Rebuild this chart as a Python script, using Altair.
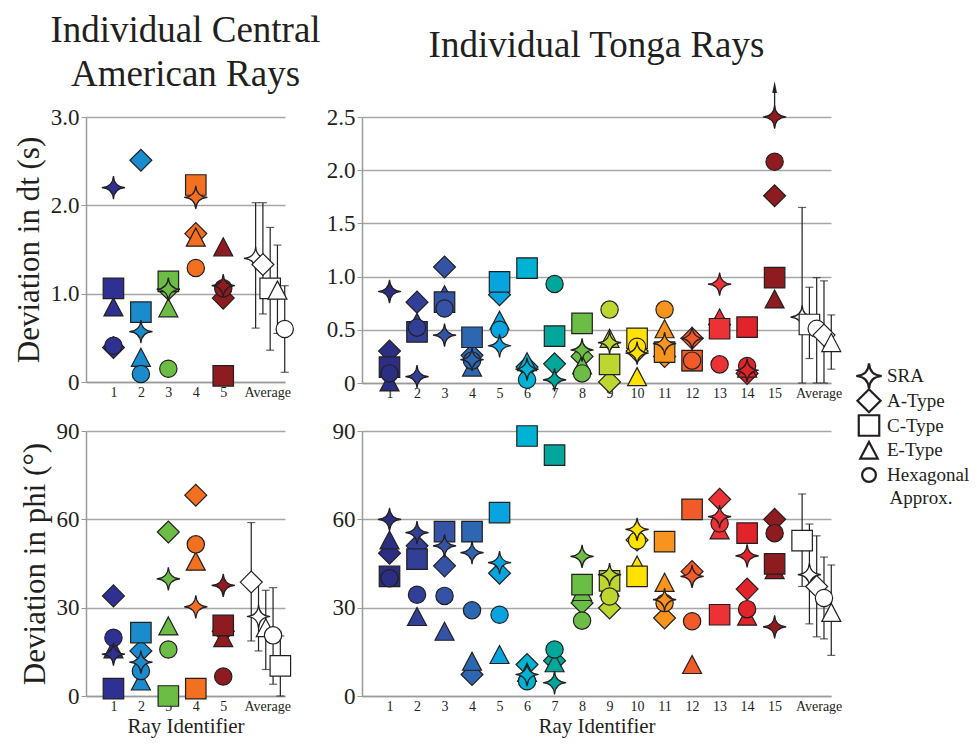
import altair as alt
import pandas as pd

# ---------------- style constants ----------------
FONT = "Liberation Serif"
INK = "#231f20"
AXIS_GRAY = "#9a9a9a"
GRID_GRAY = "#a6a6a6"

TYPES = ["SRA", "A-Type", "C-Type", "E-Type", "Hexagonal Approx."]
DRAW_ORDER = ["A-Type", "E-Type", "C-Type", "Hexagonal Approx.", "SRA"]
LEGEND_TEXT = ["SRA", "A-Type", "C-Type", "E-Type", "Hexagonal"]

STAR = "M0,-1 Q0.06,-0.06 1,0 Q0.06,0.06 0,1 Q-0.06,0.06 -1,0 Q-0.06,-0.06 0,-1 Z"
TRIANGLE = "M0,-0.95 L1,0.95 L-1,0.95 Z"
ARROW_HEAD = "M0,-1 L0.4,1 L-0.4,1 Z"
SHAPES = [STAR, "diamond", "square", TRIANGLE, "circle"]
SIZES = [540, 300, 265, 265, 265]
LEGEND_SIZES = [650, 190, 160, 150, 170]
AVG_STEP = 0.265

# ---------------- data ----------------
CA_RAYS = [1, 2, 3, 4, 5]
TONGA_RAYS = list(range(1, 16))

CA_COLORS = ["#2e3192", "#1a8bcc", "#6cbd45", "#f37021", "#8e1b1f"]
TONGA_COLORS = ["#2b2e83", "#323f97", "#3553a4", "#2e67b1", "#08a4e0",
                "#00b2d3", "#00a79a", "#6cbd45", "#bed630", "#ffe200",
                "#f7941d", "#f15a29", "#ed3237", "#e1232a", "#8e1b1f"]

# Central American rays, deviation in dt (s)
CA_DT_SRA = [2.20, 0.57, 1.05, 2.09, 1.09]
CA_DT_A = [0.39, 2.51, 1.05, 1.68, 0.95]
CA_DT_C = [1.06, 0.79, 1.14, 2.23, 0.07]
CA_DT_E = [0.85, 0.28, 0.84, 1.64, 1.53]
CA_DT_H = [0.41, 0.09, 0.15, 1.29, 1.06]
CA_DT_AVG = [1.40, 1.33, 1.06, 1.04, 0.60]
CA_DT_LO = [0.61, 0.77, 0.36, 0.55, 0.11]
CA_DT_HI = [2.03, 2.03, 1.75, 1.55, 1.09]

# Central American rays, deviation in phi (deg)
CA_PHI_SRA = [14.2, 11.5, 39.8, 30.3, 37.6]
CA_PHI_A = [34.0, 15.3, 55.7, 68.2, 22.0]
CA_PHI_C = [2.5, 21.5, 0.0, 2.5, 24.0]
CA_PHI_E = [16.0, 5.1, 23.8, 45.8, 19.8]
CA_PHI_H = [19.8, 8.5, 15.8, 51.5, 6.6]
CA_PHI_AVG = [27.0, 38.7, 10.2, 23.2, 20.6]
CA_PHI_LO = [15.3, 18.7, 0.0, 9.0, 4.0]
CA_PHI_HI = [38.7, 58.9, 20.4, 35.9, 36.8]

# Tonga rays, deviation in dt (s)
T_DT_SRA = [0.86, 0.06, 0.45, 0.22, 0.35, 0.13, 0.03, 0.31, 0.38, 0.28, 0.37, 0.42, 0.93, 0.12, 2.50]
T_DT_A = [0.30, 0.76, 1.09, 0.26, 0.83, 0.15, 0.18, 0.25, 0.01, 0.30, 0.25, 0.42, 0.55, 0.09, 1.76]
T_DT_C = [0.15, 0.48, 0.76, 0.43, 0.95, 1.08, 0.44, 0.56, 0.175, 0.42, 0.29, 0.21, 0.51, 0.525, 0.99]
T_DT_E = [0.01, 0.57, 0.83, 0.15, 0.59, 0.20, 0.44, 0.17, 0.42, 0.06, 0.51, 0.20, 0.61, 0.14, 0.79]
T_DT_H = [0.09, 0.52, 0.70, 0.21, 0.50, 0.03, 0.93, 0.09, 0.69, 0.34, 0.69, 0.21, 0.175, 0.16, 2.08]
T_DT_AVG = [0.62, 0.45, 0.55, 0.38, 0.51]
T_DT_LO = [0.0, 0.0, 0.23, 0.13, 0.0]
T_DT_HI = [1.65, 0.96, 0.90, 0.64, 0.99]
T_DT_ARROW = [2.58, 2.74, 2.78]  # rule start, rule end, head (ray 15 off scale)

# Tonga rays, deviation in phi (deg)
T_PHI_SRA = [60.0, 55.5, 51.0, 48.7, 45.3, 7.3, 4.5, 47.4, 41.2, 56.6, 32.7, 40.6, 60.9, 47.6, 23.5]
T_PHI_A = [48.5, 51.0, 44.2, 7.3, 41.7, 10.7, 12.0, 31.6, 29.9, 53.0, 26.5, 42.3, 66.8, 36.3, 60.0]
T_PHI_C = [40.6, 46.5, 55.8, 55.8, 62.3, 88.3, 81.8, 37.8, 39.1, 40.6, 52.4, 63.4, 27.6, 55.3, 44.9]
T_PHI_E = [53.0, 27.0, 22.0, 11.8, 14.1, 8.0, 11.3, 35.5, 37.0, 44.5, 38.6, 10.7, 56.4, 27.1, 42.9]
T_PHI_H = [40.0, 34.4, 34.0, 29.1, 27.6, 5.0, 15.8, 25.6, 33.8, 52.8, 31.6, 25.4, 58.6, 29.5, 55.3]
T_PHI_AVG = [41.2, 37.2, 52.8, 28.4, 33.3]
T_PHI_LO = [24.5, 20.1, 37.2, 13.8, 19.4]
T_PHI_HI = [58.4, 54.4, 68.6, 44.5, 47.2]


def panel(rays, colors, series, avg_mean, avg_lo, avg_hi, avg_start, label_pos,
          x_max, width, y_max, y_ticks, y_label_expr, y_title, x_title, height,
          title=None, arrow=None):
    pts = pd.DataFrame([{"ray": r, "type": t, "value": v}
                        for t in DRAW_ORDER for r, v in zip(rays, series[t])])
    order = sorted(range(5), key=lambda i: -avg_mean[i])
    avg = pd.DataFrame({
        "type": [TYPES[i] for i in order],
        "mean": [avg_mean[i] for i in order],
        "lo": [avg_lo[i] for i in order],
        "hi": [avg_hi[i] for i in order],
        "xpos": [avg_start + k * AVG_STEP for k in range(5)],
    })
    x_scale = alt.Scale(domain=[0, x_max], nice=False, zero=False)
    y_scale = alt.Scale(domain=[0, y_max], nice=False)
    x_axis = alt.Axis(values=rays + [label_pos],
                      labelExpr=f"datum.value > {rays[-1] + 0.5} ? 'Average' : datum.label",
                      ticks=False, grid=False, title=x_title, labelFontSize=14,
                      labelPadding=3, titleFontSize=21, titlePadding=2,
                      domainWidth=1.5, labelFlush=False, labelOverlap=False)
    y_axis = alt.Axis(values=y_ticks, labelExpr=y_label_expr, grid=True,
                      title=y_title, labelFontSize=23, tickSize=5, labelPadding=2,
                      titleFontSize=31, titlePadding=5, gridWidth=1.3,
                      domainWidth=1.5, labelFlush=False, labelOverlap=False)

    def X(f):
        return alt.X(f"{f}:Q", scale=x_scale, axis=x_axis)

    def Y(f):
        return alt.Y(f"{f}:Q", scale=y_scale, axis=y_axis)

    shape = alt.Shape("type:N", scale=alt.Scale(domain=TYPES, range=SHAPES), legend=None)
    size = alt.Size("type:N", scale=alt.Scale(domain=TYPES, range=SIZES), legend=None)

    base_pts = alt.Chart(pts).mark_point(filled=True, opacity=1, stroke=INK,
                                         strokeWidth=1.2).encode(
        x=X("ray"), y=Y("value"),
        fill=alt.Fill("ray:O", scale=alt.Scale(domain=rays, range=colors), legend=None),
        shape=shape, size=size)
    bars = alt.Chart(avg).mark_rule(color=INK, strokeWidth=1.2).encode(
        x=X("xpos"), y=Y("lo"), y2=alt.Y2("hi"))
    caps_hi = alt.Chart(avg).mark_tick(orient="horizontal", color=INK, size=8,
                                       thickness=1.2).encode(x=X("xpos"), y=Y("hi"))
    caps_lo = alt.Chart(avg).mark_tick(orient="horizontal", color=INK, size=8,
                                       thickness=1.2).encode(x=X("xpos"), y=Y("lo"))
    avg_pts = alt.Chart(avg).mark_point(filled=True, fill="white", opacity=1,
                                        stroke=INK, strokeWidth=1.2).encode(
        x=X("xpos"), y=Y("mean"), shape=shape, size=size)
    layers = [base_pts, bars, caps_hi, caps_lo, avg_pts]

    if arrow is not None:
        adf = pd.DataFrame({"ray": [rays[-1]], "y0": [arrow[0]], "y1": [arrow[1]],
                            "head": [arrow[2]]})
        layers.append(alt.Chart(adf).mark_rule(color=INK, strokeWidth=1.3, clip=False).encode(
            x=X("ray"), y=Y("y0"), y2=alt.Y2("y1")))
        layers.append(alt.Chart(adf).mark_point(shape=ARROW_HEAD, filled=True, fill=INK,
                                                opacity=1, size=140, clip=False).encode(
            x=X("ray"), y=Y("head")))

    props = dict(width=width, height=height)
    if title is not None:
        props["title"] = title
    return alt.layer(*layers).properties(**props)


DT_EXPR = "datum.value == 0 ? '0' : format(datum.value, '.1f')"
PHI_EXPR = "datum.label"

ca_dt = panel(CA_RAYS, CA_COLORS,
              {"SRA": CA_DT_SRA, "A-Type": CA_DT_A, "C-Type": CA_DT_C,
               "E-Type": CA_DT_E, "Hexagonal Approx.": CA_DT_H},
              CA_DT_AVG, CA_DT_LO, CA_DT_HI, 6.18, 6.6, 7.25, 199,
              3.0, [0, 1, 2, 3], DT_EXPR, "Deviation in dt (s)", None, 265,
              title=alt.Title(["Individual Central", "American Rays"], fontSize=37,
                              lineHeight=44, offset=12, anchor="middle"))

tonga_dt = panel(TONGA_RAYS, TONGA_COLORS,
                 {"SRA": T_DT_SRA, "A-Type": T_DT_A, "C-Type": T_DT_C,
                  "E-Type": T_DT_E, "Hexagonal Approx.": T_DT_H},
                 T_DT_AVG, T_DT_LO, T_DT_HI, 16.0, 16.6, 17.05, 469,
                 2.5, [0, 0.5, 1.0, 1.5, 2.0, 2.5], DT_EXPR, None, None, 266,
                 title=alt.Title("Individual Tonga Rays", fontSize=37, offset=16,
                                 anchor="middle"),
                 arrow=T_DT_ARROW)

ca_phi = panel(CA_RAYS, CA_COLORS,
               {"SRA": CA_PHI_SRA, "A-Type": CA_PHI_A, "C-Type": CA_PHI_C,
                "E-Type": CA_PHI_E, "Hexagonal Approx.": CA_PHI_H},
               CA_PHI_AVG, CA_PHI_LO, CA_PHI_HI, 6.02, 6.6, 7.25, 199,
               90, [0, 30, 60, 90], PHI_EXPR, "Deviation in phi (°)", "Ray Identifier", 265)

tonga_phi = panel(TONGA_RAYS, TONGA_COLORS,
                  {"SRA": T_PHI_SRA, "A-Type": T_PHI_A, "C-Type": T_PHI_C,
                   "E-Type": T_PHI_E, "Hexagonal Approx.": T_PHI_H},
                  T_PHI_AVG, T_PHI_LO, T_PHI_HI, 16.0, 16.6, 17.05, 469,
                  90, [0, 30, 60, 90], PHI_EXPR, None, "Ray Identifier", 265)

inner = alt.concat(ca_dt, tonga_dt, ca_phi, tonga_phi, columns=2,
                   spacing={"row": 20, "column": 5}).resolve_scale(
    fill="independent", size="independent")

# ---------------- legend ----------------
leg = pd.DataFrame({"type": TYPES, "label": LEGEND_TEXT})
ly = alt.Y("type:N", scale=alt.Scale(domain=TYPES, range=[259, 358], padding=0), axis=None)
leg_sym = alt.Chart(leg).mark_point(filled=True, fill="white", opacity=1, stroke=INK,
                                    strokeWidth=2.2).encode(
    x=alt.value(12), y=ly,
    shape=alt.Shape("type:N", scale=alt.Scale(domain=TYPES, range=SHAPES), legend=None),
    size=alt.Size("type:N", scale=alt.Scale(domain=TYPES, range=LEGEND_SIZES), legend=None))
leg_txt = alt.Chart(leg).mark_text(align="left", baseline="middle", font=FONT,
                                   fontSize=19, color=INK).encode(
    x=alt.value(30), y=ly, text="label:N")
leg_more = alt.Chart(pd.DataFrame({"t": ["Approx."]})).mark_text(
    align="center", baseline="middle", font=FONT, fontSize=19, color=INK).encode(
    x=alt.value(64), y=alt.value(381), text="t:N")
legend = alt.layer(leg_sym, leg_txt, leg_more).properties(width=100, height=400)

chart = alt.hconcat(inner, legend, spacing=7).resolve_scale(
    fill="independent", size="independent").properties(
    padding={"left": 5, "top": 4, "right": 0, "bottom": 2}
).configure_view(stroke=None).configure_axis(
    labelFont=FONT, titleFont=FONT, labelColor=INK, titleColor=INK,
    domainColor=AXIS_GRAY, gridColor=GRID_GRAY, tickColor=AXIS_GRAY,
    titleFontWeight="normal"
).configure_title(font=FONT, color=INK, fontWeight="normal")

chart.save("out.html", embed_options={"renderer": "svg", "actions": False})
